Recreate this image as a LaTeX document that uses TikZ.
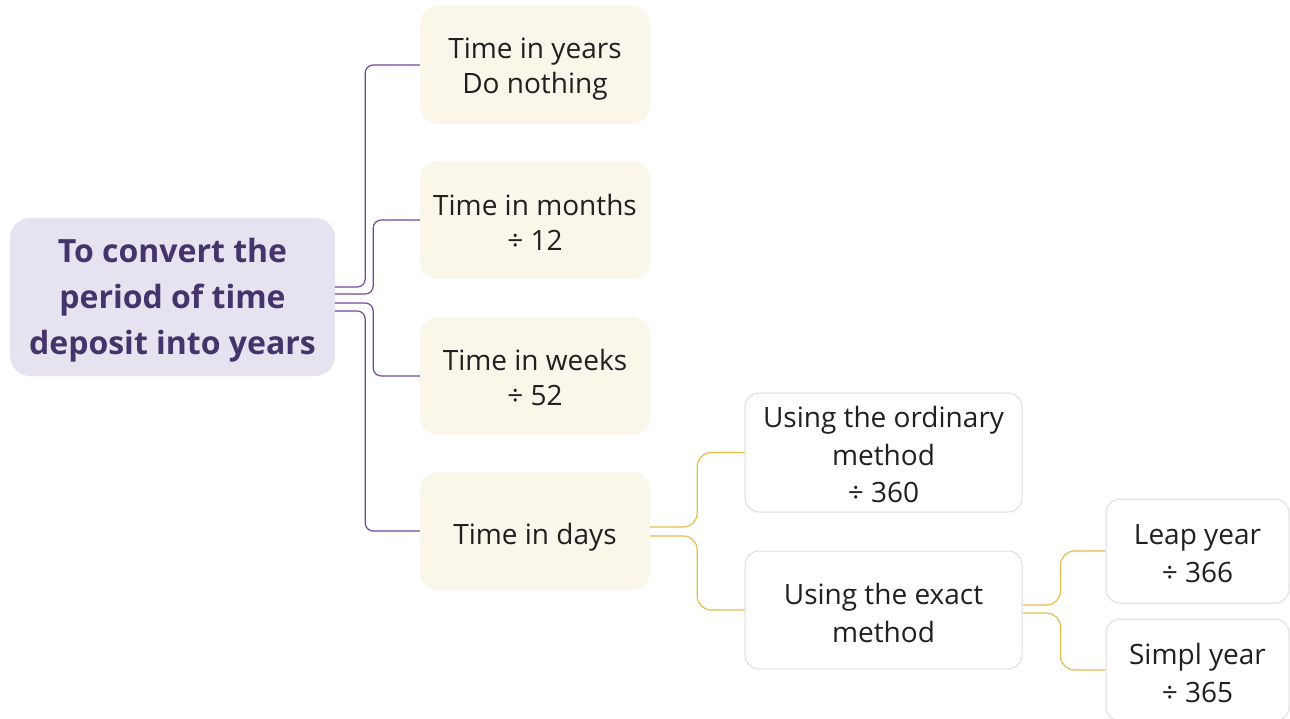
\documentclass[tikz,border=0pt]{standalone}
\usepackage{fontspec}
\setmainfont{Open Sans}
\definecolor{rootfill}{HTML}{E7E2EF}
\definecolor{roottext}{HTML}{45336B}
\definecolor{beige}{HTML}{FAF6EA}
\definecolor{purpline}{HTML}{7446A0}
\definecolor{goldline}{HTML}{E8BC4C}
\definecolor{grayborder}{HTML}{DCDCE4}
\definecolor{txt}{HTML}{231F20}
\newcommand\lowr[1]{\rule{0pt}{#1}}
\tikzset{
  rootbox/.style={rectangle, rounded corners=20pt, fill=rootfill, text=roottext, font=\fontsize{32}{46}\selectfont\bfseries, align=center, minimum width=325pt, minimum height=158pt, inner sep=0pt},
  catbox/.style={rectangle, rounded corners=18pt, fill=beige, text=txt, font=\fontsize{28}{35}\selectfont, align=center, minimum width=230pt, minimum height=118pt, inner sep=0pt},
  subbox/.style={rectangle, rounded corners=14pt, fill=white, draw=grayborder, line width=1pt, text=txt, font=\fontsize{28}{37.5}\selectfont, align=center, inner sep=0pt},
  pline/.style={draw=purpline, line width=1.2pt, rounded corners=8pt},
  gline/.style={draw=goldline, line width=1.2pt, rounded corners=14pt},
}
\begin{document}
\begin{tikzpicture}[x=1pt,y=-1pt]
\useasboundingbox (0,0) rectangle (1290,719);
\fill[white] (0,0) rectangle (1290,719);
\node[rootbox] (root) at (172.5,297) {\lowr{30pt}To convert the\\period of time\\deposit into years};
\node[catbox] (years) at (535,65) {\lowr{29pt}Time in years\\Do nothing};
\node[catbox] (months) at (535,220) {\lowr{27pt}Time in months\\÷ 12};
\node[catbox] (weeks) at (535,376) {\lowr{25pt}Time in weeks\\÷ 52};
\node[catbox] (days) at (535,531) {\lowr{33pt}Time in days};
\node[subbox, minimum width=277pt, minimum height=119pt] (ordinary) at (883.5,452.5) {\lowr{26pt}Using the ordinary\\method\\÷ 360};
\node[subbox, minimum width=277pt, minimum height=118pt] (exact) at (883.5,610) {\lowr{27pt}Using the exact\\method};
\node[subbox, minimum width=183pt, minimum height=104pt] (leap) at (1197.5,551) {\lowr{25pt}Leap year\\÷ 366};
\node[subbox, minimum width=183pt, minimum height=102pt] (simpl) at (1197.5,670) {\lowr{27pt}Simpl year\\÷ 365};
\draw[pline] ([yshift=10pt]root.east) -- ++(30,0) |- (years.west);
\draw[pline] ([yshift=3pt]root.east) -- ++(38,0) |- (months.west);
\draw[pline] ([yshift=-6pt]root.east) -- ++(38,0) |- (weeks.west);
\draw[pline] ([yshift=-14pt]root.east) -- ++(30,0) |- (days.west);
\draw[gline] ([yshift=4pt]days.east) -- ++(47,0) |- (ordinary.west);
\draw[gline] ([yshift=-5pt]days.east) -- ++(47,0) |- (exact.west);
\draw[gline] ([yshift=5pt]exact.east) -- ++(38,0) |- (leap.west);
\draw[gline] ([yshift=-3pt]exact.east) -- ++(38,0) |- (simpl.west);
\end{tikzpicture}
\end{document}
